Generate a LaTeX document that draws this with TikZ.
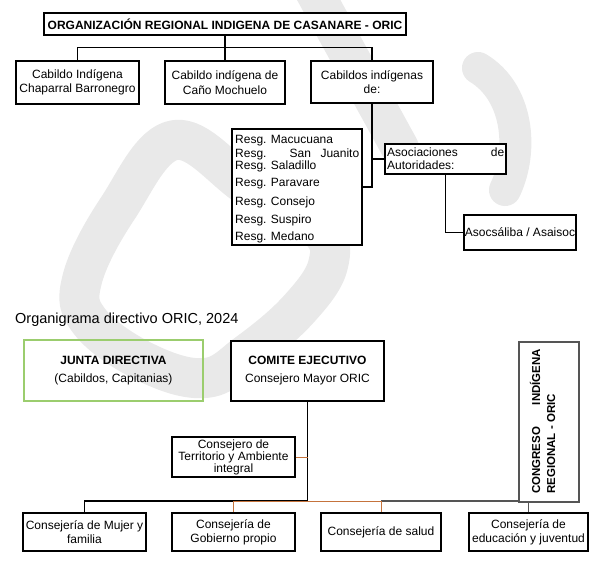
\documentclass[tikz,border=0pt]{standalone}
\usepackage{fontspec}
\setmainfont{Liberation Sans}
\definecolor{orangeln}{RGB}{197,115,60}
\definecolor{greenbox}{RGB}{155,205,110}
\definecolor{grayln}{RGB}{85,85,85}
\definecolor{wmark}{RGB}{233,233,233}
\begin{document}
\begin{tikzpicture}[x=1pt,y=-1pt,
  box/.style={draw, fill=white, line width=1.1pt, align=center, inner sep=0pt, font=\fontsize{12}{14.3}\selectfont},
  txt/.style={inner sep=0pt, font=\fontsize{12}{14}\selectfont},
  conn/.style={line width=1.4pt},
  thin/.style={line width=1pt},
  wm/.style={draw=wmark, line cap=round, line join=round}]
\useasboundingbox (0,0) rectangle (607,568);
\fill[white] (0,0) rectangle (607,568);

% ---- watermark ----
\begin{scope}
\clip (0,0) rectangle (607,568);
\draw[wm, line width=40pt] plot[smooth cycle, tension=0.65] coordinates {(175,140) (250,188) (318,228) (328,265) (298,310) (248,353) (205,378) (145,362) (90,322) (82,280) (118,208)};
\draw[wm, line width=38pt] (305,-25) -- (400,148);
\draw[wm, line width=32pt] (478,68) .. controls (518,92) and (524,150) .. (505,190);
\end{scope}

% ---- upper chart ----
\node[box, minimum width=362pt, minimum height=22pt, font=\bfseries\fontsize{12}{14}\selectfont] (org) at (225,24) {ORGANIZACIÓN REGIONAL INDIGENA DE CASANARE - ORIC};
\node[box, minimum width=123pt, minimum height=43pt] (c1) at (77.5,82.5) {Cabildo Indígena\\Chaparral Barronegro};
\node[box, minimum width=120pt, minimum height=43pt] (c2) at (225,82.5) {Cabildo indígena de\\Caño Mochuelo};
\node[box, minimum width=122pt, minimum height=42pt] (c3) at (372,82) {Cabildos indígenas\\de:};

\draw[conn] (org.south) -- (c2.north);
\draw[conn] (c1.north) -- ++(0,-13) -| (c3.north);

\node[box, minimum width=130pt, minimum height=116pt] (resg) at (297,187) {};
\node[txt, anchor=base west] (r1) at (235,143) {Resg. Macucuana};
\node[txt, anchor=base west] (r2) at (235,157.5) {\makebox[124pt][s]{Resg. San Juanito}};
\node[txt, anchor=base west] (r3) at (235,169) {Resg. Saladillo};
\node[txt, anchor=base west] (r4) at (235,186) {Resg. Paravare};
\node[txt, anchor=base west] (r5) at (235,205) {Resg. Consejo};
\node[txt, anchor=base west] (r6) at (235,223) {Resg. Suspiro};
\node[txt, anchor=base west] (r7) at (235,240) {Resg. Medano};

\node[box, minimum width=121pt, minimum height=30pt] (asoc) at (445.5,159) {};
\node[txt, anchor=base west] (a1) at (387,156.5) {\makebox[117pt][s]{Asociaciones de}};
\node[txt, anchor=base west] (a2) at (387,169.5) {Autoridades:};

\node[box, minimum width=112pt, minimum height=35pt] (asai) at (520,232.5) {Asocsáliba / Asaisoc};

\draw[conn] (c3.south) |- (resg.east);
\draw[conn] (asoc.west) -- (asoc.west -| c3.south);
\draw[conn] (asoc.south) |- (asai.west);

% ---- title ----
\node[anchor=base west, inner sep=0pt, font=\fontsize{14.5}{17}\selectfont] (title) at (15,323) {Organigrama directivo ORIC, 2024};

% ---- lower chart ----
\node[box, fill=none, draw=greenbox, minimum width=179pt, minimum height=61pt, font=\fontsize{12}{18}\selectfont] (junta) at (113.5,370.5) {\textbf{JUNTA DIRECTIVA}\\(Cabildos, Capitanias)};
\node[box, minimum width=153pt, minimum height=60pt, font=\fontsize{12}{18}\selectfont] (comite) at (307.5,371) {\textbf{COMITE EJECUTIVO}\\Consejero Mayor ORIC};
\node[box, minimum width=123pt, minimum height=40pt, font=\fontsize{12}{12}\selectfont] (terr) at (233.5,457) {Consejero de\\Territorio y Ambiente\\integral};

\node[box, minimum width=123pt, minimum height=38pt] (mujer) at (84.5,532) {Consejería de Mujer y\\familia};
\node[box, minimum width=123pt, minimum height=38pt] (gob) at (233.5,532) {Consejería de\\Gobierno propio};
\node[box, minimum width=120pt, minimum height=38pt] (salud) at (381,532) {Consejería de salud};
\node[box, minimum width=119pt, minimum height=38pt] (edu) at (528.5,532) {Consejería de\\educación y juventud};

\node[box, draw=grayln, minimum width=60pt, minimum height=160pt] (cong) at (549,422) {};
\node[inner sep=0pt, font=\bfseries\fontsize{11.5}{14}\selectfont, rotate=90, anchor=base west] (cg1) at (540,494) {\makebox[145pt][s]{CONGRESO INDÍGENA}};
\node[inner sep=0pt, font=\bfseries\fontsize{11.5}{14}\selectfont, rotate=90, anchor=base west] (cg2) at (555,494) {REGIONAL - ORIC};

\coordinate (bus) at (307.5,501);
\draw[conn] (comite.south) -- (bus);
\draw[conn] (mujer.north) |- (bus);
\draw[conn, grayln] (salud.north |- bus) -- (bus -| cong.west);
\draw[thin, orangeln] (gob.north) |- (salud.north |- bus) -- (salud.north);
\draw[thin, orangeln] (terr.east) -- (terr.east -| comite.south);
\draw[thin, grayln] (edu.north) -- (edu.north |- cong.south);
\end{tikzpicture}
\end{document}
